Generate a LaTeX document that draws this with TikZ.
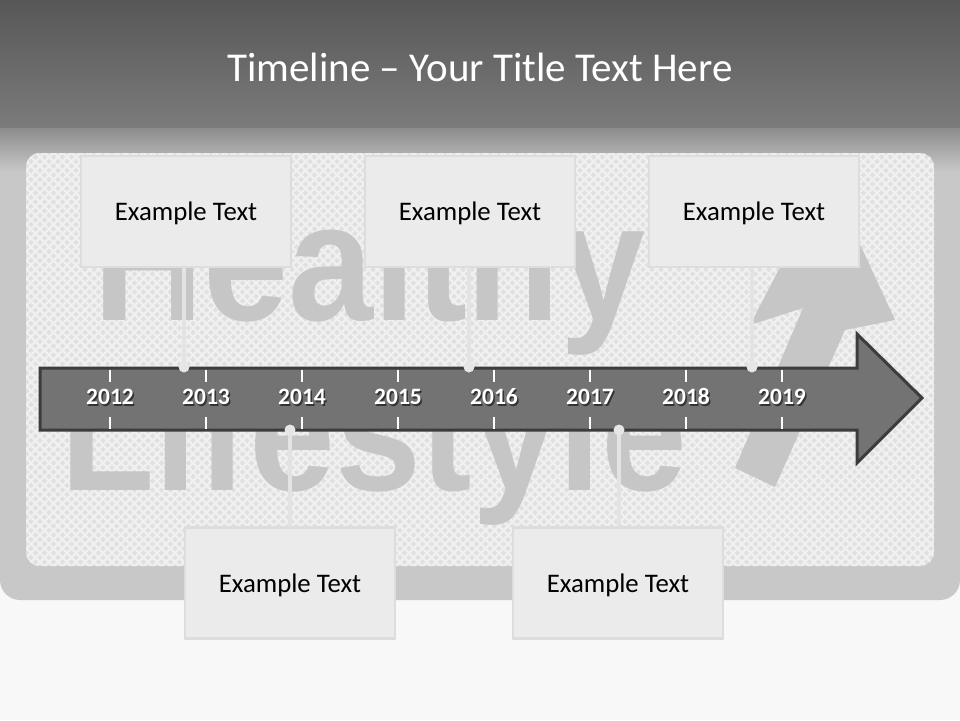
\documentclass[tikz,border=0pt]{standalone}
\usepackage{fontspec}
\setmainfont{Carlito}
\newfontfamily\signfont{Liberation Sans}
\begin{document}
\begin{tikzpicture}[x=1pt,y=-1pt,
  exbox/.style={draw=boxedge,line width=2.5pt,fill=boxfill,minimum width=210pt,minimum height=111pt,inner sep=0pt,text height=18.2pt,text depth=0pt,font=\fontsize{26.8}{30}\selectfont,text=black},
  conn/.style={draw=connc,line width=4pt},
  dotc/.style={circle,fill=dotfill,inner sep=0pt,minimum size=11pt},
  yearlbl/.style={font=\fontsize{23.5}{26}\selectfont\bfseries,text=white,inner sep=0pt,anchor=base},
  yearshadow/.style={font=\fontsize{23.5}{26}\selectfont\bfseries,text=black,opacity=0.55,inner sep=0pt,anchor=base},
  tickl/.style={draw=white,line width=1.2pt},
  signtext/.style={text=signc,inner sep=0pt,anchor=base west,font=\fontsize{168}{170}\signfont\bfseries}]
\definecolor{headtop}{HTML}{575757}
\definecolor{headbot}{HTML}{7B7B7B}
\definecolor{shadtop}{HTML}{8B8B8B}
\definecolor{outerc}{HTML}{C8C8C8}
\definecolor{panelc}{HTML}{E0E0E0}
\definecolor{latc}{HTML}{F0F0F0}
\definecolor{signc}{HTML}{C6C6C6}
\definecolor{arrowfill}{HTML}{737373}
\definecolor{arrowedge}{HTML}{3C3C3C}
\definecolor{boxfill}{HTML}{EBEBEB}
\definecolor{boxedge}{HTML}{DDDDDD}
\definecolor{connc}{HTML}{E3E3E3}
\definecolor{dotfill}{HTML}{E6E6E6}
\definecolor{pagebg}{HTML}{F8F8F8}
\useasboundingbox (0,0) rectangle (960,720);
% page background
\fill[pagebg] (0,0) rectangle (960,720);
% outer sign
\fill[outerc] (0,120) -- (960,120) -- (960,580) arc[start angle=0,end angle=90,radius=20] -- (20,600) arc[start angle=90,end angle=180,radius=20] -- cycle;
% shadow gradient under header
\shade[top color=shadtop,bottom color=outerc] (0,127) rectangle (960,172);
% header band
\shade[top color=headtop,bottom color=headbot] (0,0) rectangle (960,127);
% patterned panel
\begin{scope}
  \clip[rounded corners=14pt] (26,153) rectangle (934,566);
  \fill[panelc] (26,153) rectangle (934,566);
  \foreach \k in {-549,-540,...,790} {
    \draw[latc,line width=2.2pt] (\k+120,120) -- (\k+620,620);
  }
  \foreach \k in {170,179,...,1510} {
    \draw[latc,line width=2.2pt] (\k-120,120) -- (\k-620,620);
  }
  % sign graphics
  \node[signtext] (healthy) at (93,320) {\scalebox{0.91}[1]{Healthy}};
  \node[signtext] (lifestyle) at (60,490) {\scalebox{0.92}[1]{Lifestyle}};
  \fill[signc] (735,468) -- (803,308) -- (750,325) -- (828,175) -- (895,320) -- (845,330) -- (775,487) -- cycle;
\end{scope}
% title
\node[text=white,font=\fontsize{41}{48}\selectfont,inner sep=0pt] (title) at (480,67) {Timeline – Your Title Text Here};
% timeline arrow
\draw[fill=arrowfill,draw=arrowedge,line width=3pt,line join=miter] (40,368) -- (857,368) -- (857,334) -- (922,398) -- (857,463) -- (857,430) -- (40,430) -- cycle;
% ticks and years
\foreach \yr [count=\i from 0] in {2012,2013,2014,2015,2016,2017,2018,2019} {
  \pgfmathsetmacro{\xx}{110+96*\i}
  \draw[tickl] (\xx,369.5) -- (\xx,382);
  \draw[tickl] (\xx,417) -- (\xx,428.5);
  \node[yearshadow] (ys\i) at (\xx+1.5,406) {\yr};
  \node[yearlbl] (y\i) at (\xx,404.5) {\yr};
}
% boxes
\node[exbox] (b1) at (186,211.5) {Example Text};
\node[exbox] (b2) at (470,211.5) {Example Text};
\node[exbox] (b3) at (754,211.5) {Example Text};
\node[exbox] (b4) at (290,583) {Example Text};
\node[exbox] (b5) at (618,583) {Example Text};
% connectors and dots
\coordinate (c1) at (184,367);
\coordinate (c2) at (469,367);
\coordinate (c3) at (752,367);
\coordinate (c4) at (290,430);
\coordinate (c5) at (619,430);
\draw[conn] (b1.south -| c1) -- (c1);
\draw[conn] (b2.south -| c2) -- (c2);
\draw[conn] (b3.south -| c3) -- (c3);
\draw[conn] (b4.north -| c4) -- (c4);
\draw[conn] (b5.north -| c5) -- (c5);
\node[dotc] (d1) at (c1) {};
\node[dotc] (d2) at (c2) {};
\node[dotc] (d3) at (c3) {};
\node[dotc] (d4) at (c4) {};
\node[dotc] (d5) at (c5) {};
\end{tikzpicture}
\end{document}
